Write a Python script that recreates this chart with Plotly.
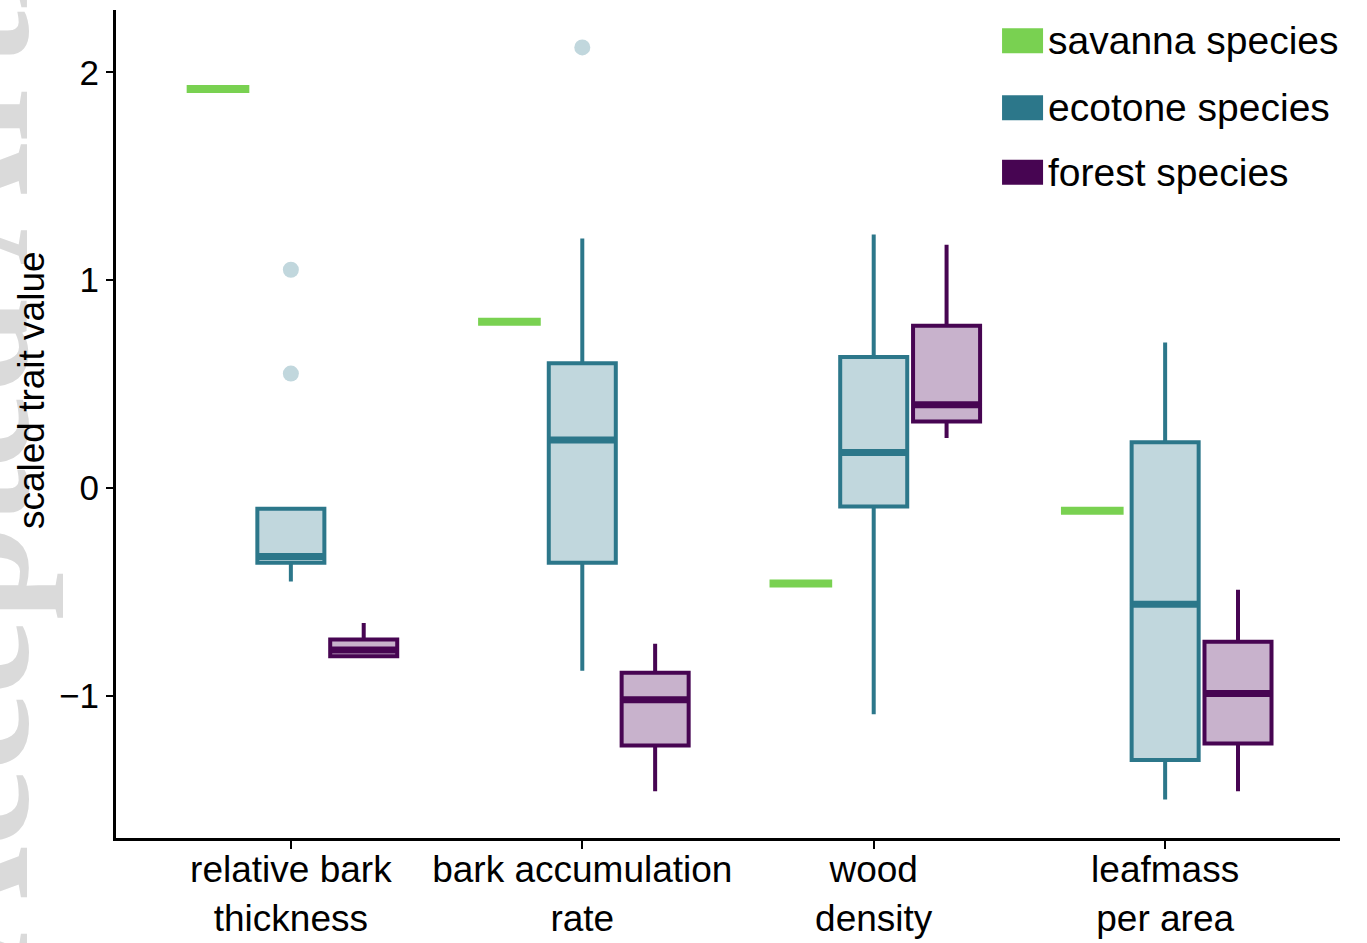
import plotly.graph_objects as go

# Trait categories (tick labels) and their positions on the x axis
categories = ["relative bark<br>thickness", "bark accumulation<br>rate",
              "wood<br>density", "leafmass<br>per area"]
cat_pos = [0, 1, 2, 3]

# Savanna species: a single value per trait
savanna_values = [1.92, 0.80, -0.46, -0.11]

# Ecotone species box statistics
eco_q1 = [-0.36, -0.36, -0.09, -1.31]
eco_median = [-0.33, 0.23, 0.17, -0.56]
eco_q3 = [-0.10, 0.60, 0.63, 0.22]
eco_low = [-0.45, -0.88, -1.09, -1.50]
eco_high = [-0.10, 1.20, 1.22, 0.70]
eco_outlier_cat = [0, 0, 1]
eco_outlier_val = [1.05, 0.55, 2.12]

# Forest species box statistics
for_q1 = [-0.81, -1.24, 0.32, -1.23]
for_median = [-0.78, -1.02, 0.40, -0.99]
for_q3 = [-0.73, -0.89, 0.78, -0.74]
for_low = [-0.81, -1.46, 0.24, -1.46]
for_high = [-0.65, -0.75, 1.17, -0.49]

GREEN = "#79d151"
ECO_LINE = "#2c778a"
ECO_FILL = "#c1d7dd"
FOR_LINE = "#470552"
FOR_FILL = "#c8b2cc"

OFFSET = 0.25
BOX_W = 0.23
SAV_W = 0.215

sav_x = [p - OFFSET for p in cat_pos]
eco_x = list(cat_pos)
for_x = [p + OFFSET for p in cat_pos]

fig = go.Figure()

# savanna: one value each, drawn as a flat box
fig.add_trace(go.Box(
    x=sav_x, q1=savanna_values, median=savanna_values, q3=savanna_values,
    lowerfence=savanna_values, upperfence=savanna_values,
    width=SAV_W, whiskerwidth=0, fillcolor=GREEN,
    line=dict(color=GREEN, width=8), boxpoints=False, showlegend=False,
    hoverinfo="skip",
))

fig.add_trace(go.Box(
    x=eco_x, q1=eco_q1, median=eco_median, q3=eco_q3,
    lowerfence=eco_low, upperfence=eco_high,
    width=BOX_W, whiskerwidth=0, fillcolor=ECO_FILL,
    line=dict(color=ECO_LINE, width=4), boxpoints=False, showlegend=False,
    hoverinfo="skip",
))

fig.add_trace(go.Box(
    x=for_x, q1=for_q1, median=for_median, q3=for_q3,
    lowerfence=for_low, upperfence=for_high,
    width=BOX_W, whiskerwidth=0, fillcolor=FOR_FILL,
    line=dict(color=FOR_LINE, width=4), boxpoints=False, showlegend=False,
    hoverinfo="skip",
))

# heavier median bars
for xs, meds, col in [(eco_x, eco_median, ECO_LINE), (for_x, for_median, FOR_LINE)]:
    mx, my = [], []
    for xc, m in zip(xs, meds):
        mx += [xc - BOX_W / 2 + 0.004, xc + BOX_W / 2 - 0.004, None]
        my += [m, m, None]
    fig.add_trace(go.Scatter(x=mx, y=my, mode="lines",
                             line=dict(color=col, width=7),
                             showlegend=False, hoverinfo="skip"))

# ecotone outliers
fig.add_trace(go.Scatter(
    x=[eco_x[c] for c in eco_outlier_cat], y=eco_outlier_val, mode="markers",
    marker=dict(color=ECO_FILL, size=16, line=dict(width=0)),
    showlegend=False, hoverinfo="skip",
))

annotations = []

# faint journal watermark along the left edge (drawn first so it stays behind)
annotations.append(dict(xref="paper", yref="paper", x=-0.119, y=0.569,
                        text="<b>Accepted Article</b>", textangle=-90,
                        showarrow=False, xanchor="center", yanchor="middle",
                        font=dict(size=170, color="#dadada",
                                  family="Liberation Serif, DejaVu Serif")))

# y-axis title
annotations.append(dict(xref="paper", yref="paper", x=-0.0694, y=0.541,
                        text="scaled trait value", textangle=-90,
                        showarrow=False, xanchor="center", yanchor="middle",
                        font=dict(size=37, color="black",
                                  family="Liberation Sans, Arial")))

# legend drawn as coloured keys with labels
legend_items = [("savanna species", GREEN), ("ecotone species", ECO_LINE),
                ("forest species", FOR_LINE)]
legend_y = [0.963, 0.882, 0.804]
shapes = []
for (label, col), yc in zip(legend_items, legend_y):
    shapes.append(dict(type="rect", xref="paper", yref="paper",
                       x0=0.7239, x1=0.7574, y0=yc - 0.0151, y1=yc + 0.0151,
                       fillcolor=col, line=dict(width=0)))
    annotations.append(dict(xref="paper", yref="paper", x=0.7595, y=yc,
                            text=label, showarrow=False, xanchor="left",
                            yanchor="middle",
                            font=dict(size=39, color="black",
                                      family="Liberation Sans, Arial")))

fig.update_layout(
    width=1367, height=943,
    margin=dict(l=116, r=27, t=10, b=105),
    paper_bgcolor="white", plot_bgcolor="white",
    font=dict(family="Liberation Sans, Arial", color="black"),
    shapes=shapes, annotations=annotations,
    xaxis=dict(
        range=[-0.6, 3.6], tickmode="array", tickvals=cat_pos,
        ticktext=categories, showgrid=False, zeroline=False,
        showline=True, linecolor="black", linewidth=3,
        ticks="outside", ticklen=8, tickwidth=2, tickcolor="black",
        tickfont=dict(size=37, color="black"), automargin=False,
        ticklabelstandoff=-11,
    ),
    yaxis=dict(
        range=[-1.685, 2.30], tickmode="array", tickvals=[-1, 0, 1, 2],
        ticktext=["\u22121", "0", "1", "2"], showgrid=False, zeroline=False,
        showline=True, linecolor="black", linewidth=3,
        ticks="outside", ticklen=7, tickwidth=2, tickcolor="black",
        tickfont=dict(size=35, color="black"), automargin=False,
    ),
)

fig.write_html("out.html")
